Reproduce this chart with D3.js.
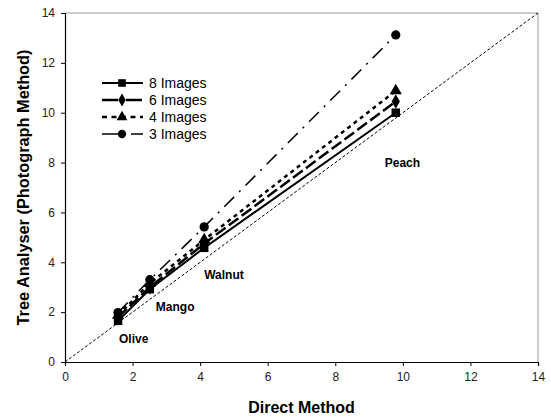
<!DOCTYPE html>
<html>
<head>
<meta charset="utf-8">
<script src="https://cdn.jsdelivr.net/npm/d3@7"></script>
<style>
  body { margin: 0; background: #fff; }
  text { font-family: Arial, "Liberation Sans", sans-serif; }
</style>
</head>
<body>
<script>
// tree sites along the x axis (direct method)
var sites = ["Olive", "Mango", "Walnut", "Peach"];
var directValues = [1.57, 2.51, 4.12, 9.79];

// tree analyser readings for each image count
var images8 = [1.65, 2.92, 4.58, 10.0];
var images6 = [1.8, 3.0, 4.75, 10.45];
var images4 = [1.88, 3.15, 4.9, 10.88];
var images3 = [1.98, 3.3, 5.42, 13.12];

var seriesNames = ["8 Images", "6 Images", "4 Images", "3 Images"];
var tickValues = [0, 2, 4, 6, 8, 10, 12, 14];

var width = 551, height = 419;
var margin = {left: 65, right: 13, top: 13, bottom: 57};

var svg = d3.select("body").append("svg")
    .attr("width", width)
    .attr("height", height);

var x = d3.scaleLinear().domain([0, 14]).range([margin.left, width - margin.right]);
var y = d3.scaleLinear().domain([0, 14]).range([height - margin.bottom, margin.top]);

// plot frame, grey on top and right
svg.append("path")
    .attr("d", "M" + x(0) + "," + y(14) + "H" + x(14) + "V" + y(0))
    .attr("fill", "none")
    .attr("stroke", "#999")
    .attr("stroke-width", 1);

// 1:1 line
svg.append("line")
    .attr("x1", x(0)).attr("y1", y(0))
    .attr("x2", x(14)).attr("y2", y(14))
    .attr("stroke", "#000")
    .attr("stroke-width", 1)
    .attr("stroke-dasharray", "3,2");

// axes
var xAxis = svg.append("g")
    .attr("transform", "translate(0," + y(0) + ")")
    .call(d3.axisBottom(x).tickValues(tickValues).tickSize(4).tickPadding(6));
var yAxis = svg.append("g")
    .attr("transform", "translate(" + x(0) + ",0)")
    .call(d3.axisLeft(y).tickValues(tickValues).tickSize(4).tickPadding(6));

[xAxis, yAxis].forEach(function(a) {
    a.select(".domain").attr("stroke", "#000").attr("stroke-width", 1.2);
    a.selectAll(".tick line").attr("stroke", "#000");
    a.selectAll(".tick text")
        .attr("font-family", "Arial, 'Liberation Sans', sans-serif")
        .attr("font-size", 12)
        .attr("fill", "#222");
});

// axis titles
svg.append("text")
    .attr("x", (x(0) + x(14)) / 2)
    .attr("y", 413)
    .attr("text-anchor", "middle")
    .attr("font-size", 16)
    .attr("font-weight", "bold")
    .text("Direct Method");

svg.append("text")
    .attr("transform", "translate(29," + (y(7)) + ") rotate(-90)")
    .attr("text-anchor", "middle")
    .attr("font-size", 16)
    .attr("font-weight", "bold")
    .attr("textLength", 276)
    .attr("lengthAdjust", "spacingAndGlyphs")
    .text("Tree Analyser (Photograph Method)");

var series = [
    {name: seriesNames[0], values: images8, dash: null, legendDash: null, width: 2, symbol: d3.symbolSquare, size: 72},
    {name: seriesNames[1], values: images6, dash: "12,4", legendDash: "16,8", width: 2.5, symbol: d3.symbolDiamond, size: 60},
    {name: seriesNames[2], values: images4, dash: "4,4", legendDash: "5,4.5", width: 2.5, symbol: d3.symbolTriangle, size: 64},
    {name: seriesNames[3], values: images3, dash: "14,7,2,7", legendDash: "17,12", width: 1.5, symbol: d3.symbolCircle, size: 68}
];

var line = d3.line()
    .x(function(d, i) { return x(directValues[i]); })
    .y(function(d) { return y(d); });

// draw back to front so the solid line sits on top
series.slice().reverse().forEach(function(s) {
    svg.append("path")
        .datum(s.values)
        .attr("d", line)
        .attr("fill", "none")
        .attr("stroke", "#000")
        .attr("stroke-width", s.width)
        .attr("stroke-dasharray", s.dash);

    svg.selectAll(null)
        .data(s.values)
        .enter().append("path")
        .attr("transform", function(d, i) { return "translate(" + x(directValues[i]) + "," + y(d) + ")"; })
        .attr("d", d3.symbol().type(s.symbol).size(s.size))
        .attr("fill", "#000");
});

// site labels, placed below the 8 image points
var labelOffsets = [[1, 22.5], [6, 21.5], [0, 31.5], [-11, 54]];
svg.selectAll(".site")
    .data(sites)
    .enter().append("text")
    .attr("class", "site")
    .attr("x", function(d, i) { return x(directValues[i]) + labelOffsets[i][0]; })
    .attr("y", function(d, i) { return y(images8[i]) + labelOffsets[i][1]; })
    .attr("font-size", 12)
    .attr("font-weight", "bold")
    .text(function(d) { return d; });

// legend
var legend = svg.append("g");
var rowY = [83, 100, 117, 134];
series.forEach(function(s, i) {
    legend.append("line")
        .attr("x1", 102).attr("x2", 143)
        .attr("y1", rowY[i]).attr("y2", rowY[i])
        .attr("stroke", "#000")
        .attr("stroke-width", s.width)
        .attr("stroke-dasharray", s.legendDash);
    legend.append("path")
        .attr("transform", "translate(122," + rowY[i] + ")")
        .attr("d", d3.symbol().type(s.symbol).size(s.size * 0.8))
        .attr("fill", "#000");
    legend.append("text")
        .attr("x", 149)
        .attr("y", rowY[i] + 5)
        .attr("font-size", 14)
        .text(s.name);
});
</script>
</body>
</html>
